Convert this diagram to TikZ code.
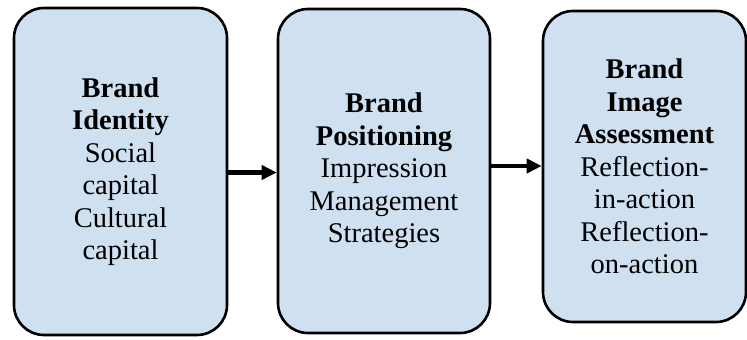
\documentclass[tikz,border=0pt]{standalone}
\usepackage{fontspec}
\setmainfont{Liberation Serif}
\usepackage{xcolor}
\usepackage{tikz}
\usetikzlibrary{arrows.meta}

\definecolor{boxblue}{RGB}{207,224,241}

\begin{document}
\begin{tikzpicture}[x=1pt, y=1pt,
		stagebox/.style={draw=black, fill=boxblue, line width=2.6pt, rounded corners=30pt, align=center, inner sep=0pt, font=\fontsize{28.5}{32.5}\selectfont},
		flowarrow/.style={line width=4.5pt, -{Triangle[length=15pt, width=14pt]}}]
				\useasboundingbox (0,0) rectangle (747,340);
				\node[stagebox, minimum width=213pt, minimum height=327pt] (identity) at (120.5,168.5) {\textbf{Brand}\\\textbf{Identity}\\Social\\capital\\Cultural\\capital};
				\node[stagebox, minimum width=212pt, minimum height=324pt] (positioning) at (384,169) {\textbf{Brand}\\\textbf{Positioning}\\Impression\\Management\\Strategies};
				\node[stagebox, minimum width=203pt, minimum height=311pt] (assessment) at (644.5,173.5) {\textbf{Brand}\\\textbf{Image}\\\textbf{Assessment}\\Reflection-\\in-action\\Reflection-\\on-action};
				\draw[flowarrow] ([yshift=-1pt]identity.east) -- ([yshift=-1pt]identity.east -| positioning.west);
				\draw[flowarrow] ([yshift=5pt]positioning.east) -- ([yshift=5pt]positioning.east -| assessment.west);
			\end{tikzpicture}
\end{document}
